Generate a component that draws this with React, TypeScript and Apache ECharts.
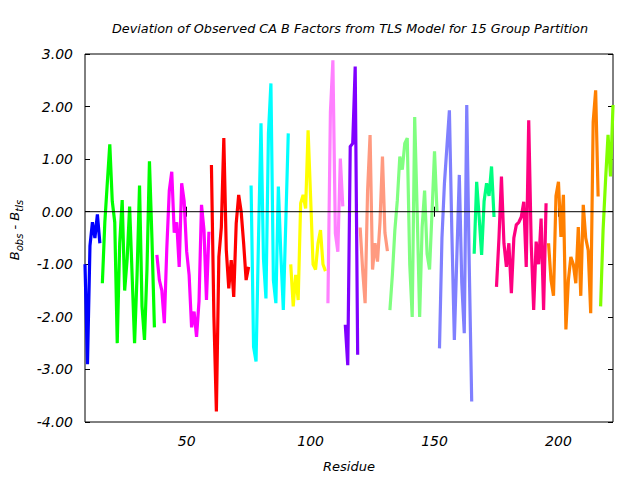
import React, { useEffect, useRef } from "react";
import * as echarts from "echarts";

const X_MIN = 9;
const X_MAX = 222;
const xTicks = [50, 100, 150, 200];
const Y_MIN = -4;
const Y_MAX = 3;

const titleText = "Deviation of Observed CA B Factors from TLS Model for 15 Group Partition";
const xName = "Residue";

const groupColors = [
  "#0000ff", "#00ff00", "#ff00ff", "#ff0000", "#00ffff",
  "#ffff00", "#ff80ff", "#8000ff", "#ff9a80", "#80ff80",
  "#8080ff", "#00ff80", "#ff0080", "#ff8000", "#80ff00",
];
const groupStarts = [9, 16, 38, 60, 76, 92, 107, 114, 120, 132, 152, 166, 175, 196, 217];

const g1 = [-1.0, -2.9, -0.65, -0.2, -0.5, -0.05, -0.6];
const g2 = [-1.36, -0.2, 0.55, 1.28, 0.2, -0.2, -2.5, -0.6, 0.22, -1.5, -0.9, 0.1, -1.2, -2.5, -1.2, 0.5, -1.8, -2.44, -1.1, 0.96, -0.5, -2.2];
const g3 = [-0.82, -1.3, -1.5, -2.12, -0.7, 0.4, 0.76, -0.4, -0.2, -1.05, 0.54, 0.2, -0.75, -1.2, -2.2, -1.9, -2.38, -1.7, 0.13, -0.35, -1.68, -0.38];
const g4 = [0.89, -2.0, -3.8, -0.86, -0.3, 1.4, -0.73, -1.46, -0.92, -1.62, -0.22, 0.32, 0.0, -0.6, -1.3, -1.05];
const g5 = [0.5, -2.57, -2.85, -0.5, 1.68, -0.9, -1.65, 1.49, 2.44, -1.3, -1.74, 0.48, -0.8, -1.87, -0.2, 1.49];
const g6 = [-1.0, -1.8, -1.2, -1.68, 0.16, 0.32, 0.06, 1.55, 0.29, -1.0, -1.1, -0.6, -0.35, -1.0, -1.13];
const g7 = [-1.74, 1.9, 2.88, -0.41, -0.76, 1.01, 0.1];
const g8 = [-2.15, -2.92, 1.24, 1.3, 2.76, -2.72];
const g9 = [-0.3, -1.1, -1.74, 0.4, 1.46, -1.1, -0.6, -0.95, -0.2, 1.05, -0.4, -0.75];
const g10 = [-1.87, -1.2, -0.35, 0.22, 1.05, 0.8, 1.3, 1.4, -1.0, -2.0, 1.8, 0.0, -2.0, -0.3, 0.4, -0.8, -1.1, 0.0, 1.15, 0.0];
const g11 = [-2.6, -0.5, 0.54, 1.24, 1.93, -0.41, -2.44, -0.86, 0.7, -1.36, -2.31, 2.03, -1.0, -3.61];
const g12 = [-0.8, 0.57, -0.1, -0.82, 0.2, 0.54, 0.3, 0.86, -0.1];
const g13 = [-1.43, -0.5, 0.67, -0.6, -1.05, -0.6, -1.55, -0.5, -0.25, -0.2, -0.1, 0.19, -1.05, 1.74, -0.6, -1.87, -0.57, -1.0, -0.13, -1.87, 0.16];
const g14 = [-0.6, -1.3, -1.6, 0.3, 0.57, -0.48, 0.32, -2.24, -1.3, -0.86, -1.0, -1.36, -0.29, -1.6, 0.13, -0.5, -0.73, -1.93, 1.71, 2.31, 0.29];
const g15 = [-1.8, -0.35, 0.6, 1.46, 0.67, 2.03];

const groupValues = [g1, g2, g3, g4, g5, g6, g7, g8, g9, g10, g11, g12, g13, g14, g15];

const FONT = "DejaVu Sans";

export default function App() {
  const ref = useRef<HTMLDivElement>(null);
  useEffect(() => {
    if (!ref.current) return;
    const chart = echarts.init(ref.current, undefined, { renderer: "svg" });
    const series: any[] = groupValues.map((vals, gi) => ({
      type: "line",
      symbol: "none",
      xAxisIndex: 0,
      yAxisIndex: 0,
      data: vals.map((v, i) => [groupStarts[gi] + i, v]),
      lineStyle: { color: groupColors[gi], width: 3.2, cap: "butt", join: "miter", miterLimit: 2 },
      itemStyle: { color: groupColors[gi] },
      z: 2,
    }));
    series.push({
      type: "line",
      symbol: "none",
      data: [[X_MIN, 0], [X_MAX, 0]],
      lineStyle: { color: "#000", width: 1 },
      z: 5,
      silent: true,
    });
    const tickCommon = { inside: true, length: 5, lineStyle: { color: "#000", width: 1 } };
    const labelCommon = { color: "#000", fontFamily: FONT, fontStyle: "italic", fontSize: 14 };
    chart.setOption({
      animation: false,
      backgroundColor: "#fff",
      title: {
        text: titleText,
        left: 345,
        top: 17,
        textAlign: "center",
        textStyle: { color: "#000", fontFamily: FONT, fontStyle: "italic", fontWeight: "normal", fontSize: 12.8 },
      },
      grid: { left: 85, right: 27, top: 54, bottom: 58, show: true, borderColor: "#000", borderWidth: 1, backgroundColor: "transparent" },
      xAxis: [
        {
          type: "value", min: X_MIN, max: X_MAX, position: "bottom",
          axisLine: { show: false },
          axisTick: { ...tickCommon, customValues: xTicks },
          axisLabel: { ...labelCommon, customValues: xTicks, margin: 12 },
          splitLine: { show: false },
          name: xName, nameLocation: "middle", nameGap: 38,
          nameTextStyle: { ...labelCommon, fontSize: 13 },
        },
        {
          type: "value", min: X_MIN, max: X_MAX, position: "top",
          axisLine: { show: false },
          axisTick: { ...tickCommon, customValues: xTicks },
          axisLabel: { show: false },
          splitLine: { show: false },
        },
      ],
      yAxis: [
        {
          type: "value", min: Y_MIN, max: Y_MAX, interval: 1, position: "left",
          axisLine: { show: false },
          axisTick: tickCommon,
          axisLabel: { ...labelCommon, margin: 12, formatter: (v: number) => v.toFixed(2) },
          splitLine: { show: false },
        },
        {
          type: "value", min: Y_MIN, max: Y_MAX, interval: 1, position: "right",
          axisLine: { show: false },
          axisTick: tickCommon,
          axisLabel: { show: false },
          splitLine: { show: false },
        },
      ],
      graphic: [
        {
          type: "text",
          x: 14,
          y: 230,
          rotation: Math.PI / 2,
          style: {
            text: "{b|B}{s|obs}{b| - B}{s|tls}",
            align: "center",
            verticalAlign: "middle",
            rich: {
              b: { fontSize: 13, fontFamily: FONT, fontStyle: "italic", fill: "#000", lineHeight: 20 },
              s: { fontSize: 10, fontFamily: FONT, fontStyle: "italic", fill: "#000", lineHeight: 10, verticalAlign: "bottom" },
            },
          },
        },
      ],
      series,
    });
    return () => chart.dispose();
  }, []);
  return <div ref={ref} style={{ position: "absolute", left: 0, top: 0, width: 640, height: 480 }} />;
}
